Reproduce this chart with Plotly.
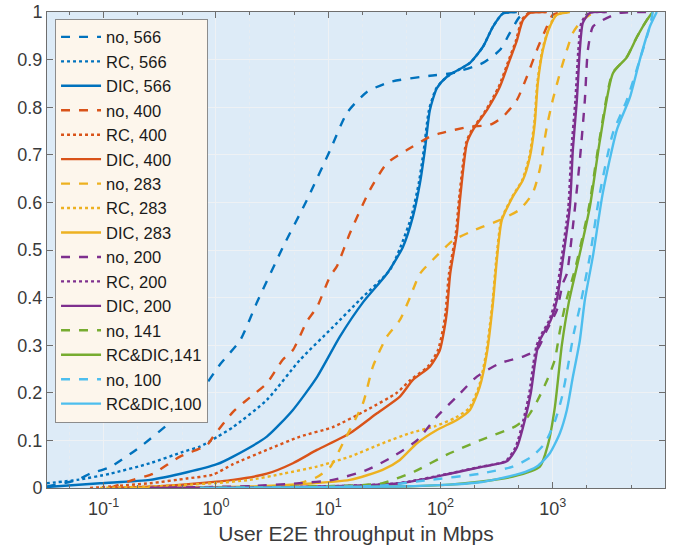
import plotly.graph_objects as go

# ---- data (x in Mbps, y = CDF) ----
no566_x = [0.031, 0.058, 0.0755, 0.114, 0.21, 0.414, 0.72, 1.09, 1.64, 2.32, 3.95, 6.46, 10.4, 14.7, 22.1, 35.4, 80.5, 129, 239, 338, 415, 509, 625]
no566_y = [0.003, 0.017, 0.03, 0.044, 0.086, 0.143, 0.2, 0.26, 0.31, 0.39, 0.506, 0.605, 0.71, 0.788, 0.832, 0.853, 0.866, 0.872, 0.893, 0.92, 0.956, 0.99, 1.0]

rc566_x = [0.031, 0.058, 0.114, 0.258, 0.508, 0.72, 1.02, 1.42, 2.84, 5.6, 11.0, 19.1, 35.4, 44, 55, 64, 71, 79, 92, 114, 183, 239, 293, 360, 479]
rc566_y = [0.01, 0.017, 0.03, 0.052, 0.076, 0.087, 0.107, 0.128, 0.185, 0.269, 0.338, 0.395, 0.458, 0.506, 0.57, 0.64, 0.71, 0.794, 0.84, 0.864, 0.893, 0.927, 0.969, 0.997, 1.0]

dic566_x = [0.031, 0.093, 0.258, 0.552, 1.02, 1.42, 2.84, 4.85, 7.94, 12.7, 20.4, 33.3, 46.2, 56.8, 65.6, 72.6, 80.5, 92.9, 114, 183, 239, 293, 360, 479]
dic566_y = [0.002, 0.01, 0.017, 0.033, 0.05, 0.066, 0.108, 0.164, 0.233, 0.318, 0.39, 0.45, 0.506, 0.57, 0.64, 0.71, 0.794, 0.84, 0.864, 0.893, 0.927, 0.969, 0.997, 1.0]

no400_x = [0.114, 0.182, 0.275, 0.478, 0.832, 0.94, 1.42, 2.0, 2.84, 3.95, 4.85, 6.46, 7.94, 10.4, 11.9, 15.6, 23.5, 33.3, 50.2, 80.5, 98.8, 183, 276, 360, 479, 588, 722, 886, 1000, 1230]
no400_y = [0.0, 0.017, 0.03, 0.066, 0.09, 0.107, 0.16, 0.19, 0.22, 0.27, 0.29, 0.35, 0.38, 0.445, 0.465, 0.535, 0.626, 0.682, 0.71, 0.738, 0.745, 0.759, 0.763, 0.78, 0.815, 0.864, 0.92, 0.969, 0.994, 1.0]

rc400_x = [0.0755, 0.258, 0.552, 0.94, 1.42, 2.84, 5.6, 11.0, 22.1, 40.9, 54, 77, 95, 106, 111, 119, 137, 146, 169, 190, 254, 330, 407, 470, 530, 610, 870]
rc400_y = [0.0, 0.01, 0.02, 0.028, 0.05, 0.08, 0.108, 0.128, 0.164, 0.2, 0.227, 0.255, 0.29, 0.338, 0.37, 0.45, 0.535, 0.605, 0.725, 0.752, 0.794, 0.843, 0.9, 0.94, 0.983, 0.998, 1.0]

dic400_x = [0.114, 0.317, 0.72, 1.42, 2.84, 4.85, 7.94, 15.6, 27.2, 43.5, 56.8, 80.5, 98.8, 109, 114, 122, 140, 149, 172, 194, 259, 338, 415, 479, 542, 625, 886]
dic400_y = [0.0, 0.004, 0.01, 0.017, 0.03, 0.052, 0.08, 0.115, 0.157, 0.192, 0.227, 0.255, 0.29, 0.338, 0.37, 0.45, 0.535, 0.605, 0.725, 0.752, 0.794, 0.843, 0.9, 0.94, 0.983, 0.998, 1.0]

no283_x = [3.72, 5.6, 7.94, 10.4, 13.5, 20.4, 25, 33.3, 43.5, 53.4, 65.6, 92.9, 129, 202, 338, 509, 665, 768, 817, 886, 1000, 1157, 1336, 1510, 1743, 2138, 2630]
no283_y = [0.003, 0.01, 0.023, 0.044, 0.094, 0.178, 0.255, 0.318, 0.353, 0.4, 0.45, 0.488, 0.52, 0.542, 0.563, 0.585, 0.62, 0.67, 0.71, 0.759, 0.815, 0.871, 0.92, 0.956, 0.977, 0.994, 1.0]

rc283_x = [0.093, 0.317, 0.94, 2.0, 3.95, 7.94, 15.6, 30.5, 53.4, 90, 137, 180, 220, 255, 290, 314, 348, 436, 535, 617, 684, 728, 808, 932, 1076, 1400]
rc283_y = [0.0, 0.004, 0.01, 0.017, 0.03, 0.045, 0.066, 0.094, 0.115, 0.13, 0.148, 0.168, 0.213, 0.283, 0.388, 0.48, 0.563, 0.612, 0.647, 0.695, 0.766, 0.85, 0.92, 0.969, 0.994, 1.0]

dic283_x = [0.17, 2.0, 5.6, 15.6, 30.5, 43.5, 61.7, 92.9, 140, 183, 224, 259, 293, 318, 352, 441, 542, 625, 692, 736, 817, 942, 1088, 1420]
dic283_y = [0.0, 0.003, 0.008, 0.017, 0.038, 0.059, 0.094, 0.122, 0.143, 0.164, 0.213, 0.283, 0.388, 0.48, 0.563, 0.612, 0.647, 0.695, 0.766, 0.85, 0.92, 0.969, 0.994, 1.0]

no200_x = [0.258, 2.0, 5.6, 11.0, 22.1, 37.7, 61.7, 92.9, 140, 211, 338, 542, 722, 886, 1088, 1230, 1336, 1510, 1743, 1932, 2055, 2276, 2794, 3960, 7780]
no200_y = [0.0, 0.004, 0.01, 0.017, 0.038, 0.066, 0.1, 0.15, 0.192, 0.234, 0.262, 0.276, 0.29, 0.332, 0.374, 0.43, 0.45, 0.548, 0.689, 0.815, 0.92, 0.969, 0.983, 0.998, 1.0]

rc200_x = [0.258, 5.4, 42, 117, 231, 378, 465, 548, 619, 671, 714, 760, 932, 1055, 1193, 1377, 1465, 1591, 1691, 1798, 2074, 2943]
rc200_y = [0.0, 0.002, 0.01, 0.03, 0.045, 0.056, 0.085, 0.143, 0.2, 0.26, 0.297, 0.315, 0.353, 0.395, 0.48, 0.59, 0.71, 0.815, 0.92, 0.977, 0.998, 1.0]

dic200_x = [0.258, 5.6, 43.5, 121, 239, 390, 479, 565, 638, 692, 736, 784, 961, 1088, 1230, 1420, 1510, 1640, 1743, 1854, 2138, 3034]
dic200_y = [0.0, 0.002, 0.01, 0.03, 0.045, 0.056, 0.085, 0.143, 0.2, 0.26, 0.297, 0.315, 0.353, 0.395, 0.48, 0.59, 0.71, 0.815, 0.92, 0.977, 0.998, 1.0]

no141_x = [0.72, 5.6, 15.6, 30.5, 59, 114, 224, 460, 600, 736, 904, 1045, 1157, 1308, 1600, 2100, 2600, 3400, 4550, 5600, 6880, 7780]
no141_y = [0.0, 0.003, 0.005, 0.01, 0.035, 0.07, 0.1, 0.129, 0.15, 0.185, 0.23, 0.27, 0.33, 0.39, 0.465, 0.59, 0.73, 0.871, 0.905, 0.947, 0.983, 1.0]

rcdic141_x = [2.0, 43.5, 121, 224, 441, 768, 904, 1045, 1205, 1390, 1640, 2138, 2630, 3430, 4570, 5610, 6890, 7780]
rcdic141_y = [0.0, 0.003, 0.007, 0.013, 0.024, 0.045, 0.09, 0.17, 0.3, 0.39, 0.465, 0.59, 0.73, 0.871, 0.905, 0.947, 0.983, 1.0]

no100_x = [0.72, 28.9, 80.5, 224, 441, 652, 851, 1045, 1205, 1362, 1540, 1743, 2138, 2630, 3430, 4570, 5970, 7320, 7780]
no100_y = [0.0, 0.005, 0.017, 0.03, 0.045, 0.066, 0.094, 0.14, 0.19, 0.254, 0.325, 0.38, 0.486, 0.62, 0.745, 0.815, 0.9, 0.969, 1.0]

rcdic100_x = [0.72, 43.5, 121, 224, 509, 722, 942, 1157, 1336, 1510, 1743, 1932, 2276, 2794, 3720, 4860, 5970, 7320, 8450]
rcdic100_y = [0.0, 0.003, 0.007, 0.012, 0.03, 0.045, 0.073, 0.115, 0.164, 0.233, 0.31, 0.395, 0.486, 0.62, 0.752, 0.82, 0.9, 0.969, 1.0]

x_tickvals = [0.1, 1, 10, 100, 1000, 10000]
x_ticktext = ["10<sup>-1</sup>", "10<sup>0</sup>", "10<sup>1</sup>", "10<sup>2</sup>", "10<sup>3</sup>", "10<sup>4</sup>"]
y_tickvals = [0, 0.1, 0.2, 0.3, 0.4, 0.5, 0.6, 0.7, 0.8, 0.9, 1]
y_ticktext = ["0", "0.1", "0.2", "0.3", "0.4", "0.5", "0.6", "0.7", "0.8", "0.9", "1"]

BLUE, ORANGE, YELLOW, PURPLE, GREEN, CYAN = "#0072BD", "#D95319", "#EDB120", "#7E2F8E", "#77AC30", "#4DBEEE"

series = [
    ("no, 566", no566_x, no566_y, BLUE, "dash"),
    ("RC, 566", rc566_x, rc566_y, BLUE, "dot"),
    ("DIC, 566", dic566_x, dic566_y, BLUE, "solid"),
    ("no, 400", no400_x, no400_y, ORANGE, "dash"),
    ("RC, 400", rc400_x, rc400_y, ORANGE, "dot"),
    ("DIC, 400", dic400_x, dic400_y, ORANGE, "solid"),
    ("no, 283", no283_x, no283_y, YELLOW, "dash"),
    ("RC, 283", rc283_x, rc283_y, YELLOW, "dot"),
    ("DIC, 283", dic283_x, dic283_y, YELLOW, "solid"),
    ("no, 200", no200_x, no200_y, PURPLE, "dash"),
    ("RC, 200", rc200_x, rc200_y, PURPLE, "dot"),
    ("DIC, 200", dic200_x, dic200_y, PURPLE, "solid"),
    ("no, 141", no141_x, no141_y, GREEN, "dash"),
    ("RC&DIC,141", rcdic141_x, rcdic141_y, GREEN, "solid"),
    ("no, 100", no100_x, no100_y, CYAN, "dash"),
    ("RC&DIC,100", rcdic100_x, rcdic100_y, CYAN, "solid"),
]

fig = go.Figure()
for name, xs, ys, col, dash in series:
    fig.add_trace(go.Scatter(
        x=xs, y=ys, mode="lines", name=name,
        line=dict(color=col, width=2.4, dash=dash, shape="spline", smoothing=0.6),
    ))

AX = "#6e6e6e"
TXT = "#3a3a3a"
fig.update_layout(
    width=675, height=549,
    margin=dict(l=47, r=10, t=12, b=61, autoexpand=False),
    paper_bgcolor="white",
    plot_bgcolor="#DDEBF7",
    font=dict(family="Liberation Sans, Arial, sans-serif", size=17, color=TXT),
    showlegend=True,
    legend=dict(
        x=0.013, y=0.986, xanchor="left", yanchor="top",
        bgcolor="#FDF6EC", bordercolor="#8c8c8c", borderwidth=1,
        font=dict(size=16.5, color="#1a1a1a"),
        tracegroupgap=0,
        itemwidth=40,
    ),
    xaxis=dict(
        type="log", range=[-1.505, 4], automargin=False,
        tickvals=x_tickvals, ticktext=x_ticktext,
        ticks="inside", ticklen=6, tickcolor=AX,
        ticklabelstandoff=4,
        showline=True, linecolor=AX, linewidth=1, mirror="ticks",
        showgrid=True, gridcolor="#eef1f4", gridwidth=1,
        minor=dict(ticks="inside", ticklen=3, tickcolor=AX, showgrid=True,
                   gridcolor="#e6ecf2", griddash="dot"),
        zeroline=False,
        title=dict(text="User E2E throughput in Mbps", font=dict(size=21, color=TXT), standoff=8),
        tickfont=dict(size=18, color=TXT),
    ),
    yaxis=dict(
        range=[0, 1], automargin=False,
        tickvals=y_tickvals, ticktext=y_ticktext,
        ticks="inside", ticklen=6, tickcolor=AX,
        showline=True, linecolor=AX, linewidth=1, mirror="ticks",
        showgrid=True, gridcolor="#eef1f4", gridwidth=1,
        zeroline=False,
        tickfont=dict(size=18, color=TXT),
    ),
)

fig.write_html("out.html")
